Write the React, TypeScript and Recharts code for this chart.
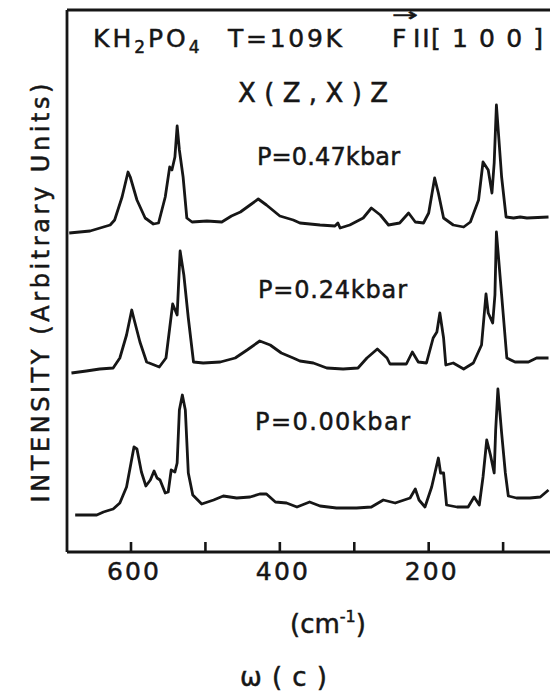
import React from 'react';
import { LineChart, Line, XAxis, YAxis, ReferenceLine } from 'recharts';

// x-axis (Raman shift, cm^-1) ticks and labels
const tickValues = [600, 500, 400, 300, 200, 100];
const tickLabels = ['600', '400', '200'];

// P = 0.47 kbar (upper trace), wavenumber and intensity (arbitrary units, offset included)
const wn047 = [683,655,628,622,612,604,601,592,581,570,563,554,548,545,541,538,535,530,525,518,498,478,465,453,440,429,418,400,382,373,346,326,322,319,306,288,277,265,254,239,227,218,207,200,192,187,180,167,153,144,133,127,120,115,112,109,102,96,86,77,68,39];
const int047 = [319,321,327,332,355,380,375,352,334,328,329,355,385,382,395,426,402,375,334,330,331,330,336,340,347,353,347,336,332,329,327,326,329,324,327,334,344,337,327,329,339,330,329,339,374,359,334,327,325,330,352,390,382,359,389,447,375,335,334,335,334,335];

// P = 0.24 kbar (middle trace)
const wn024 = [680,660,642,624,615,606,599,596,588,579,562,553,548,544,538,534,529,523,516,503,480,460,444,427,413,398,382,373,355,337,315,295,283,269,256,252,230,222,214,203,194,189,185,180,177,167,153,140,129,123,120,114,111,109,102,95,84,66,55,39];
const int024 = [179,181,183,184,194,217,242,233,210,190,185,194,224,248,237,301,277,234,190,189,190,194,202,211,207,199,194,191,189,184,183,184,194,203,194,188,188,200,190,189,214,220,239,214,187,189,183,189,207,258,239,229,257,320,257,194,190,190,194,194];

// P = 0.00 kbar (lower trace)
const wn000 = [675,646,637,624,615,606,600,596,592,586,580,574,569,565,561,554,550,546,541,538,535,531,527,523,517,505,489,476,458,440,427,418,406,391,377,360,346,324,297,277,261,245,225,218,213,205,196,187,184,180,176,162,147,139,132,127,122,117,112,110,107,102,97,93,82,64,50,39];
const int000 = [37,37,40,43,49,65,89,105,103,80,66,72,81,74,72,59,60,82,80,89,142,157,142,79,57,48,52,56,54,55,58,58,50,49,45,50,46,44,44,45,52,49,54,63,52,45,65,94,79,79,47,45,45,55,47,75,112,97,79,122,163,119,79,56,54,54,55,62];

const zip = (xs: number[], ys: number[]) => xs.map((x, i) => ({ x, y: ys[i] }));
const data047 = zip(wn047, int047);
const data024 = zip(wn024, int024);
const data000 = zip(wn000, int000);

const INK = '#161616';
const FONT = 'DejaVu Sans';
const TXT = { stroke: INK, strokeWidth: 0.5 };

const XTick = (props: any) => {
  const { x, y, payload } = props;
  const label = String(payload.value);
  const show = tickLabels.includes(label);
  return (
    <g>
      <line x1={x} x2={x} y1={y} y2={y - 10} stroke={INK} strokeWidth={2.6} />
      {show && (
        <text x={x + 2} y={y + 28} textAnchor="middle" fontSize={25} fontFamily={FONT} fill={INK} stroke={INK} strokeWidth={0.5} textLength={52} lengthAdjust="spacing">
          {label}
        </text>
      )}
    </g>
  );
};

export default function App() {
  return (
    <div style={{ position: 'absolute', left: 0, top: 0, width: 550, height: 695, background: '#fff', overflow: 'hidden' }}>
      <LineChart width={550} height={695} margin={{ top: 10, right: 0, bottom: 113, left: 7 }}>
        <XAxis
          type="number"
          dataKey="x"
          domain={[37, 686]}
          reversed
          allowDataOverflow
          ticks={tickValues}
          interval={0}
          tickSize={0}
          tickMargin={0}
          tickLine={false}
          axisLine={{ stroke: INK, strokeWidth: 2.8 }}
          tick={<XTick />}
          height={30}
        />
        <YAxis
          type="number"
          domain={[0, 542]}
          allowDataOverflow
          tick={false}
          tickLine={false}
          axisLine={{ stroke: INK, strokeWidth: 2.8 }}
          width={60}
        />
        <ReferenceLine y={542} stroke={INK} strokeWidth={2.8} />
        <Line data={data047} dataKey="y" type="linear" stroke={INK} strokeWidth={2.8} strokeLinejoin="round" dot={false} isAnimationActive={false} />
        <Line data={data024} dataKey="y" type="linear" stroke={INK} strokeWidth={2.8} strokeLinejoin="round" dot={false} isAnimationActive={false} />
        <Line data={data000} dataKey="y" type="linear" stroke={INK} strokeWidth={2.8} strokeLinejoin="round" dot={false} isAnimationActive={false} />
      </LineChart>
      <svg width={550} height={695} style={{ position: 'absolute', left: 0, top: 0, pointerEvents: 'none' }} fontFamily={FONT} fill={INK}>
        <text x={93} y={47} fontSize={25} letterSpacing={3} {...TXT}>
          KH<tspan fontSize={17} dy={6}>2</tspan><tspan dy={-6}>PO</tspan><tspan fontSize={17} dy={6}>4</tspan>
        </text>
        <text x={228} y={47} fontSize={25} textLength={114} lengthAdjust="spacing" {...TXT}>T=109K</text>
        <text x={392} y={21} fontSize={18} textLength={26} lengthAdjust="spacingAndGlyphs" {...TXT}>→</text>
        <text x={392} y={47} fontSize={25} {...TXT}>F</text>
        <text x={413} y={47} fontSize={25} letterSpacing={2} {...TXT}>II</text>
        <text x={431} y={47} fontSize={25} textLength={112} lengthAdjust="spacing" {...TXT}>[100]</text>
        <text x={238} y={102} fontSize={26} textLength={150} lengthAdjust="spacing" {...TXT}>X(Z,X)Z</text>
        <text x={257} y={165} fontSize={24} textLength={143} lengthAdjust="spacing" {...TXT}>P=0.47kbar</text>
        <text x={258} y={298} fontSize={24} textLength={149} lengthAdjust="spacing" {...TXT}>P=0.24kbar</text>
        <text x={255} y={430} fontSize={24} textLength={155} lengthAdjust="spacing" {...TXT}>P=0.00kbar</text>
        <text transform="translate(49,293) rotate(-90)" textAnchor="middle" fontSize={24} textLength={419} lengthAdjust="spacing" {...TXT}>INTENSITY (Arbitrary Units)</text>
        <text x={290} y={633} fontSize={26} {...TXT}>
          (cm<tspan fontSize={16} dy={-11}>-1</tspan><tspan dy={11}>)</tspan>
        </text>
        <text x={240} y={686} fontSize={26} textLength={87} lengthAdjust="spacing" {...TXT}>ω(c)</text>
      </svg>
    </div>
  );
}
